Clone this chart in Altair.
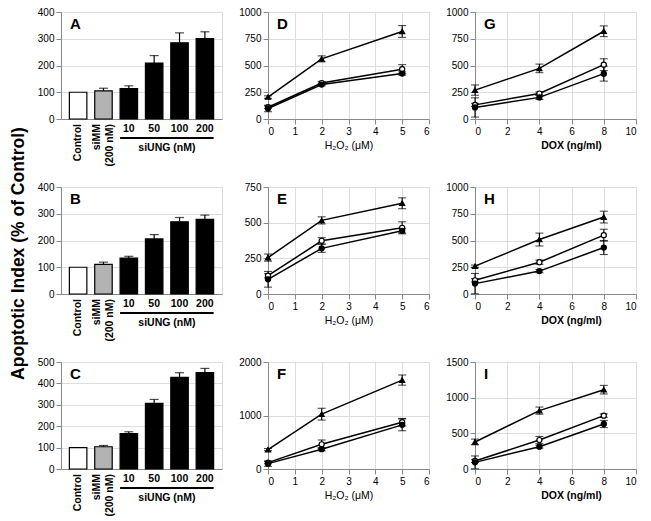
import altair as alt
import pandas as pd

FONT = "Liberation Sans"

# ---------------- data ----------------
cats = ["Control", "siMM", "10", "50", "100", "200"]
bar_colors = ["white", "#b3b3b3", "black", "black", "black", "black"]
bar_A = [100, 105, 114, 209, 285, 301]
err_A = [0, 10, 10, 28, 37, 25]
bar_B = [100, 111, 134, 206, 270, 279]
err_B = [0, 8, 7, 16, 16, 16]
bar_C = [100, 104, 165, 307, 428, 450]
err_C = [0, 6, 9, 18, 22, 20]

h2o2 = [0, 2, 5]
dox = [0, 4, 8]
series = ["tri", "open", "fill"]

D_tri, D_tri_e = [205, 562, 818], [12, 28, 55]
D_open, D_open_e = [110, 336, 466], [12, 15, 42]
D_fill, D_fill_e = [98, 322, 425], [30, 12, 15]

G_tri, G_tri_e = [270, 473, 820], [48, 40, 50]
G_open, G_open_e = [132, 238, 508], [15, 15, 55]
G_fill, G_fill_e = [108, 202, 424], [90, 20, 70]

E_tri, E_tri_e = [255, 516, 636], [25, 25, 38]
E_open, E_open_e = [128, 373, 464], [15, 22, 42]
E_fill, E_fill_e = [103, 320, 443], [55, 28, 15]

H_tri, H_tri_e = [260, 509, 719], [10, 60, 55]
H_open, H_open_e = [128, 297, 550], [15, 20, 55]
H_fill, H_fill_e = [97, 214, 434], [95, 15, 65]

F_tri, F_tri_e = [362, 1025, 1662], [20, 110, 95]
F_open, F_open_e = [119, 462, 875], [20, 80, 70]
F_fill, F_fill_e = [100, 370, 825], [50, 30, 110]

I_tri, I_tri_e = [379, 818, 1112], [40, 50, 60]
I_open, I_open_e = [112, 406, 748], [20, 50, 25]
I_fill, I_fill_e = [93, 313, 631], [90, 20, 50]

W, H = 161, 107
YTITLE = "Apoptotic Index (% of Control)"


def letter_layer(letter):
    return alt.Chart(pd.DataFrame({"t": [letter]})).mark_text(
        align="left", baseline="alphabetic", fontSize=15, fontWeight="bold",
        font=FONT, color="black"
    ).encode(x=alt.value(9), y=alt.value(17), text="t:N")


def bar_panel(vals, errs, ymax, letter, ytitle=None):
    df = pd.DataFrame({"cat": cats, "v": vals, "e": errs,
                       "hi": [v + e for v, e in zip(vals, errs)],
                       "col": bar_colors})
    xsc = alt.Scale(domain=cats, paddingInner=0.31, paddingOuter=0.33)
    ysc = alt.Scale(domain=[0, ymax], nice=False)
    yaxis_kw = dict(values=list(range(0, ymax + 1, 100)), title=None, format="d")
    if ytitle:
        yaxis_kw.update(title=ytitle, titleX=-34, titleY=66, titleAngle=270,
                        titleAlign="center", titleBaseline="bottom",
                        titleFontSize=17.5, titleFontWeight="bold", titleFont=FONT)
    yax = alt.Axis(**yaxis_kw)
    xax = alt.Axis(labels=False, ticks=False, title=None)
    xenc = alt.X("cat:N", scale=xsc, sort=cats, axis=xax)
    bars = alt.Chart(df).mark_bar(stroke="black", strokeWidth=1.2).encode(
        x=xenc,
        y=alt.Y("v:Q", scale=ysc, axis=yax),
        fill=alt.Fill("col:N", scale=None),
    )
    dfe = df[df.e > 0]
    erule = alt.Chart(dfe).mark_rule(color="black", strokeWidth=1.2).encode(
        x=xenc, y=alt.Y("v:Q", scale=ysc, axis=yax), y2="hi:Q")
    ecap = alt.Chart(dfe).mark_tick(orient="horizontal", size=9, thickness=1.2,
                                    color="black").encode(
        x=xenc, y=alt.Y("hi:Q", scale=ysc, axis=yax))
    tstyle = dict(fontSize=10.5, fontWeight="bold", font=FONT, color="black")
    nums = alt.Chart(df.iloc[2:]).mark_text(baseline="middle", **tstyle).encode(
        x=xenc, y=alt.value(H + 10), text="cat:N")
    ctrl = alt.Chart(df.iloc[:1]).mark_text(
        angle=270, align="right", baseline="middle", **tstyle
    ).encode(x=xenc, y=alt.value(H + 5), text=alt.value("Control"))
    simm1 = alt.Chart(df.iloc[1:2]).mark_text(
        angle=270, align="right", baseline="middle", dy=-6.5, **tstyle
    ).encode(x=xenc, y=alt.value(H + 5), text=alt.value("siMM"))
    simm2 = alt.Chart(df.iloc[1:2]).mark_text(
        angle=270, align="right", baseline="middle", dy=6.5, **tstyle
    ).encode(x=xenc, y=alt.value(H + 5), text=alt.value("(200 nM)"))
    ul = alt.Chart(pd.DataFrame({"a": ["10"], "b": ["200"]})).mark_rule(
        color="black", strokeWidth=2
    ).encode(x=alt.X("a:N", scale=xsc, axis=xax, bandPosition=0),
             x2=alt.X2("b:N", bandPosition=1),
             y=alt.value(H + 19))
    ung = alt.Chart(pd.DataFrame({"a": ["50"], "t": ["siUNG (nM)"]})).mark_text(
        baseline="middle", dx=4, **tstyle
    ).encode(x=alt.X("a:N", scale=xsc, axis=xax, bandPosition=1),
             y=alt.value(H + 29), text="t:N")
    return alt.layer(bars, erule, ecap, nums, ctrl, simm1, simm2, ul, ung,
                     letter_layer(letter)).properties(width=W, height=H)


def line_panel(x, data, ymax, ystep, xmax, xstep, letter, xtitle, bold, tX):
    rows = []
    for name, (vals, errs) in zip(series, data):
        for xi, v, e in zip(x, vals, errs):
            rows.append({"x": xi, "y": v, "lo": v - e, "hi": v + e, "s": name})
    df = pd.DataFrame(rows)
    xsc = alt.Scale(domain=[0, xmax], nice=False)
    ysc = alt.Scale(domain=[0, ymax], nice=False)
    xax = alt.Axis(
        values=list(range(0, xmax + 1, xstep)), title=xtitle, titleX=tX,
        titleY=26, titleBaseline="middle", titleAlign="center", format="d",
        titleFontSize=10.5, titleFontWeight="bold" if bold else "normal",
        titleFont=FONT)
    yax = alt.Axis(values=list(range(0, ymax + 1, ystep)), title=None, format="d")
    X = lambda f: alt.X(f, scale=xsc, axis=xax)
    Y = lambda f: alt.Y(f, scale=ysc, axis=yax)
    base = alt.Chart(df)
    lines = base.mark_line(color="black", strokeWidth=1.5).encode(
        x=X("x:Q"), y=Y("y:Q"), detail="s:N")
    er = base.mark_rule(color="black", strokeWidth=1.1).encode(
        x=X("x:Q"), y=Y("lo:Q"), y2="hi:Q")
    cap_hi = base.mark_tick(orient="horizontal", size=8, thickness=1.1,
                            color="black").encode(x=X("x:Q"), y=Y("hi:Q"))
    cap_lo = base.mark_tick(orient="horizontal", size=8, thickness=1.1,
                            color="black").encode(x=X("x:Q"), y=Y("lo:Q"))
    pts = base.mark_point(stroke="black", strokeWidth=1.2, opacity=1,
                          size=26).encode(
        x=X("x:Q"), y=Y("y:Q"),
        shape=alt.Shape("s:N", scale=alt.Scale(
            domain=series, range=["triangle-up", "circle", "circle"]),
            legend=None),
        fill=alt.Fill("s:N", scale=alt.Scale(
            domain=series, range=["black", "white", "black"]), legend=None),
    )
    return alt.layer(lines, er, cap_hi, cap_lo, pts,
                     letter_layer(letter)).properties(width=W, height=H)


H2 = "H\u2082O\u2082 (\u03bcM)"
DX = "DOX (ng/ml)"

A = bar_panel(bar_A, err_A, 400, "A")
B = bar_panel(bar_B, err_B, 400, "B", ytitle=YTITLE)
C = bar_panel(bar_C, err_C, 500, "C")

D = line_panel(h2o2, [(D_tri, D_tri_e), (D_open, D_open_e), (D_fill, D_fill_e)],
               1000, 250, 6, 1, "D", H2, False, 80.5)
E = line_panel(h2o2, [(E_tri, E_tri_e), (E_open, E_open_e), (E_fill, E_fill_e)],
               750, 250, 6, 1, "E", H2, False, 80.5)
F = line_panel(h2o2, [(F_tri, F_tri_e), (F_open, F_open_e), (F_fill, F_fill_e)],
               2000, 1000, 6, 1, "F", H2, False, 80.5)
G = line_panel(dox, [(G_tri, G_tri_e), (G_open, G_open_e), (G_fill, G_fill_e)],
               1000, 250, 10, 2, "G", DX, True, 96)
Hh = line_panel(dox, [(H_tri, H_tri_e), (H_open, H_open_e), (H_fill, H_fill_e)],
                1000, 250, 10, 2, "H", DX, True, 96)
I = line_panel(dox, [(I_tri, I_tri_e), (I_open, I_open_e), (I_fill, I_fill_e)],
               1500, 500, 10, 2, "I", DX, True, 96)

chart = alt.concat(A, D, G, B, E, Hh, C, F, I, columns=3,
                   spacing={"row": 68, "column": 46}, bounds="flush"
                   ).resolve_scale(shape="independent", fill="independent"
                   ).properties(padding={"left": 0, "top": -2, "right": 0, "bottom": 0}
                   ).configure_view(stroke="#8a8a8a", strokeWidth=1
                   ).configure_axis(
    labelFont=FONT, labelFontWeight="bold", labelFontSize=10, labelColor="black",
    tickColor="black", domainColor="black", domainWidth=1.3, tickWidth=1.3,
    tickSize=3, labelPadding=1, grid=False, titleColor="black", zindex=1,
    labelOverlap=False
).configure(background="white")

chart.save("out.html", embed_options={"renderer": "svg", "actions": False})
